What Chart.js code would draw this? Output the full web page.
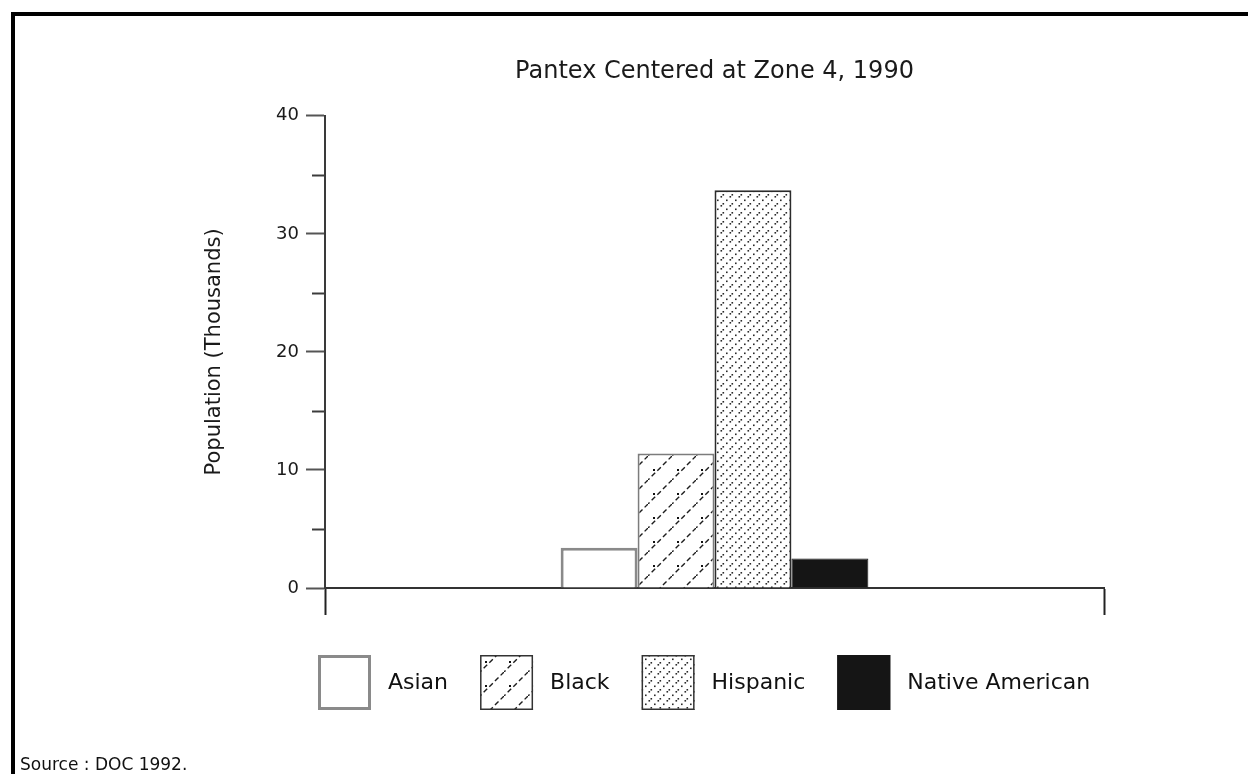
<!DOCTYPE html>
<html>
<head>
<meta charset="utf-8">
<title>Pantex Centered at Zone 4, 1990</title>
<script src="https://cdn.jsdelivr.net/npm/chart.js@4.4.1/dist/chart.umd.min.js"></script>
<style>
  html, body { margin: 0; padding: 0; background: #fff; }
  #wrap { position: relative; width: 1248px; height: 774px; overflow: hidden; }
  #frame { position: absolute; left: 11px; top: 12px; right: 0; bottom: 0;
           border-top: 4px solid #000; border-left: 4px solid #000; }
  #source { position: absolute; left: 20px; top: 754px; line-height: 17px;
            font: 17px "DejaVu Sans", sans-serif; color: #111; white-space: nowrap; }
  canvas { position: absolute; left: 0; top: 0; }
</style>
</head>
<body>
<div id="wrap">
  <div id="frame"></div>
  <canvas id="chart" width="1248" height="774"></canvas>
  <div id="source">Source : DOC 1992.</div>
</div>
<script>
const zones = ['Zone 4'];
const groups = ['Asian', 'Black', 'Hispanic', 'Native American'];
const population = [3.4, 11.4, 33.7, 2.5]; // thousands
const yTicks = { min: 0, max: 40, step: 5, labelEvery: 10 };

const FONT = '"DejaVu Sans", "Liberation Sans", sans-serif';

// small tiles used as bar fills
function makePattern(size, paint) {
    const tile = document.createElement('canvas');
    tile.width = tile.height = size;
    const g = tile.getContext('2d');
    g.fillStyle = '#fff';
    g.fillRect(0, 0, size, size);
    paint(g, size);
    return document.createElement('canvas').getContext('2d').createPattern(tile, 'repeat');
}

const slashes = makePattern(24, (g, s) => {
    g.strokeStyle = '#1e1e1e';
    g.lineWidth = 1.4;
    g.setLineDash([5, 3]);
    g.beginPath();
    g.moveTo(-2, s + 2);
    g.lineTo(s + 2, -2);
    g.stroke();
    g.fillStyle = '#111';
    g.fillRect(5, 13, 2, 2);
});

const dots = makePattern(9, (g) => {
    g.fillStyle = '#2a2a2a';
    g.fillRect(0.5, 7, 1.6, 1.6);
    g.fillRect(2.5, 5, 1.6, 1.6);
    g.fillRect(6, 1.5, 1.6, 1.6);
});

const fills = ['#ffffff', slashes, dots, '#151515'];
const edges = ['#8a8a8a', '#7c7c7c', '#2b2b2b', '#151515'];
const edgeWidths = [3, 2, 2, 1];
const keyEdges = ['#8a8a8a', '#333', '#333', '#151515'];
const keyEdgeWidths = [3, 1.5, 1.5, 1];

// shorter unlabeled ticks between the labeled ones
const minorTicks = {
    id: 'minorTicks',
    afterDraw(chart) {
        const y = chart.scales.y;
        const ctx = chart.ctx;
        ctx.save();
        ctx.strokeStyle = '#3c3c3c';
        ctx.lineWidth = 2;
        y.ticks.forEach(t => {
            if (t.value % yTicks.labelEvery !== 0) {
                const py = Math.round(y.getPixelForValue(t.value)) + 0.5;
                ctx.beginPath();
                ctx.moveTo(y.right - 13, py);
                ctx.lineTo(y.right, py);
                ctx.stroke();
            }
        });
        ctx.restore();
    }
};

// one-row key under the axis: swatch, label, swatch, label...
const keyRow = {
    id: 'keyRow',
    afterDraw(chart) {
        const { ctx, chartArea } = chart;
        const box = { w: 53, h: 55, gap: 17, spacing: 32 };
        let x = chartArea.left - 7;
        const top = chartArea.bottom + 67;
        ctx.save();
        ctx.font = '22px ' + FONT;
        ctx.textBaseline = 'middle';
        chart.data.datasets.forEach((ds, i) => {
            const lw = keyEdgeWidths[i];
            ctx.fillStyle = ds.backgroundColor;
            ctx.fillRect(x, top, box.w, box.h);
            ctx.strokeStyle = keyEdges[i];
            ctx.lineWidth = lw;
            ctx.strokeRect(x + lw / 2, top + lw / 2, box.w - lw, box.h - lw);
            ctx.fillStyle = '#111';
            ctx.fillText(ds.label, x + box.w + box.gap, top + box.h / 2 + 1);
            x += box.w + box.gap + ctx.measureText(ds.label).width + box.spacing;
        });
        ctx.restore();
    }
};

new Chart(document.getElementById('chart'), {
    type: 'bar',
    data: {
        labels: zones,
        datasets: groups.map((name, i) => ({
            label: name,
            data: [population[i]],
            backgroundColor: fills[i],
            borderColor: edges[i],
            borderWidth: edgeWidths[i],
            barPercentage: 1,
            categoryPercentage: 0.395
        }))
    },
    options: {
        responsive: false,
        animation: false,
        layout: { padding: { top: 20, left: 198, right: 144, bottom: 157 } },
        plugins: {
            tooltip: { enabled: false },
            legend: { display: false },
            title: {
                display: true,
                fullSize: false,
                text: 'Pantex Centered at Zone 4, 1990',
                color: '#1a1a1a',
                font: { family: FONT, size: 24, weight: 'normal' },
                padding: { top: 37, bottom: 30 }
            }
        },
        scales: {
            x: {
                grid: {
                    display: true,
                    drawOnChartArea: false,
                    offset: true,
                    tickLength: 27,
                    tickWidth: 2,
                    tickColor: '#222'
                },
                border: { display: true, color: '#333', width: 2 },
                ticks: { display: false },
                afterFit(scale) { scale.height = 29; }
            },
            y: {
                min: yTicks.min,
                max: yTicks.max,
                ticks: {
                    stepSize: yTicks.step,
                    padding: 7,
                    color: '#1a1a1a',
                    font: { family: FONT, size: 18 },
                    callback: v => (v % yTicks.labelEvery === 0 ? v : '')
                },
                grid: {
                    drawOnChartArea: false,
                    tickLength: 19,
                    tickWidth: 2,
                    tickColor: c => (c.tick && c.tick.value % yTicks.labelEvery === 0 ? '#555' : 'rgba(0,0,0,0)')
                },
                border: { display: true, color: '#3a3a3a', width: 2 },
                title: {
                    display: true,
                    text: 'Population (Thousands)',
                    color: '#1a1a1a',
                    font: { family: FONT, size: 21 }
                },
                afterFit(scale) { scale.width = 127; }
            }
        }
    },
    plugins: [minorTicks, keyRow]
});
</script>
</body>
</html>
